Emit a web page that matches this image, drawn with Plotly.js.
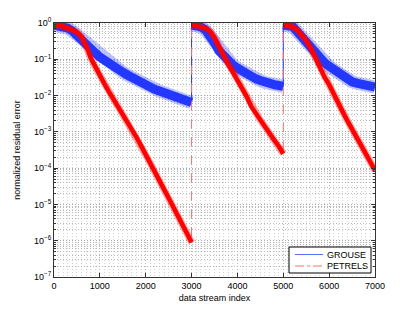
<!DOCTYPE html>
<html>
<head>
<meta charset="utf-8">
<script src="https://cdn.plot.ly/plotly-3.0.1.min.js"></script>
<style>html,body{margin:0;padding:0;background:#fff;}#chart{width:415px;height:313px;}</style>
</head>
<body>
<div id="chart"></div>
<script>
// data stream index samples, per run segment
const idx1 = [0,100,200,300,400,500,600,700,800,900,1000,1100,1200,1300,1400,1500,1600,1700,1800,1900,2000,2100,2200,2300,2400,2500,2600,2700,2800,2900,3000];
const idx2 = [3000,3100,3200,3300,3400,3500,3600,3700,3800,3900,4000,4100,4200,4300,4400,4500,4600,4700,4800,4900,5000];
const idx3 = [5000,5100,5200,5300,5400,5500,5600,5700,5800,5900,6000,6100,6200,6300,6400,6500,6600,6700,6800,6900,7000];

// GROUSE normalized residual error
const grouse1 = [0.87,0.85,0.80,0.72,0.60,0.47,0.36,0.27,0.20,0.15,0.115,0.092,0.075,0.062,0.052,0.044,0.037,0.031,0.026,0.022,0.019,0.0165,0.0148,0.0133,0.012,0.0108,0.0098,0.009,0.0082,0.0073,0.0064];
const grouse2 = [0.88,0.86,0.78,0.65,0.45,0.28,0.17,0.12,0.088,0.070,0.057,0.047,0.040,0.034,0.029,0.026,0.023,0.021,0.020,0.019,0.018];
const grouse3 = [0.88,0.86,0.80,0.58,0.42,0.29,0.19,0.135,0.10,0.080,0.065,0.052,0.041,0.033,0.028,0.024,0.022,0.020,0.019,0.018,0.017];

// PETRELS normalized residual error
const petrels1 = [0.88,0.85,0.80,0.72,0.64,0.56,0.42,0.24,0.11,0.06,0.034,0.021,0.0126,0.0079,0.0049,0.0030,0.0019,0.0012,7.1e-4,4.1e-4,2.3e-4,1.35e-4,7.8e-5,4.5e-5,2.6e-5,1.5e-5,8.7e-6,5.0e-6,2.9e-6,1.66e-6,9e-7];
const petrels2 = [0.88,0.85,0.78,0.72,0.60,0.40,0.22,0.13,0.071,0.044,0.027,0.016,0.0095,0.005,0.0032,0.0021,0.0014,9.1e-4,6.0e-4,4.0e-4,2.5e-4];
const petrels3 = [0.88,0.85,0.78,0.65,0.48,0.33,0.20,0.11,0.055,0.032,0.020,0.0117,0.0063,0.0035,0.0020,0.0012,7.2e-4,4.4e-4,2.6e-4,1.5e-4,8.7e-5];

const yTickVals = [1e-7,1e-6,1e-5,1e-4,1e-3,1e-2,1e-1,1];
const yTickText = ['10<sup>−7</sup>','10<sup>−6</sup>','10<sup>−5</sup>','10<sup>−4</sup>','10<sup>−3</sup>','10<sup>−2</sup>','10<sup>−1</sup>','10<sup>0</sup>'];
const xTickVals = [0,1000,2000,3000,4000,5000,6000,7000];
const seriesNames = ['GROUSE','PETRELS'];

const BLUE = 'rgb(35,55,255)';
const RED = 'rgb(255,0,0)';
const PINK = 'rgb(255,110,110)';

const idxSegs = [idx1, idx2, idx3];
const gSegs = [grouse1, grouse2, grouse3];
const pSegs = [petrels1, petrels2, petrels3];

const traces = [];
// thin full series (connectors at the restarts)
traces.push({x: [].concat(...idxSegs), y: [].concat(...gSegs), type:'scatter', mode:'lines',
  name: seriesNames[0], line:{color:BLUE, width:1}, showlegend:false});
function band(segX, segY, color, w1, w2, op) {
  for (let i = 0; i < segX.length; i++) {
    traces.push({x: segX[i], y: segY[i], type:'scatter', mode:'lines', showlegend:false, hoverinfo:'skip',
      line:{color:color, width:w2}, opacity:op});
    traces.push({x: segX[i], y: segY[i], type:'scatter', mode:'lines', showlegend:false, hoverinfo:'skip',
      line:{color:color, width:w1}});
  }
}
band(idxSegs, gSegs, BLUE, 9, 13, 0.3);
traces.push({x: [].concat(...idxSegs), y: [].concat(...pSegs), type:'scatter', mode:'lines',
  name: seriesNames[1], line:{color:PINK, width:1, dash:'dash'}, showlegend:false});
band(idxSegs, pSegs, RED, 4.5, 7, 0.35);

const axisFont = {family:'Liberation Sans, Arial, sans-serif', size:9, color:'#000'};

// legend drawn as a boxed key in paper coordinates (plot area 321 x 254 px)
const W = 321, H = 254;
const px = v => v / W, py = v => v / H;
const legL = 289-54, legR = 371-54, legT = 277-247, legB = 277-273;
const shapes = [
  {type:'rect', xref:'paper', yref:'paper', x0:px(legL), x1:px(legR), y0:py(legB), y1:py(legT),
   line:{color:'#000', width:1}, fillcolor:'#fff', layer:'above'},
  {type:'line', xref:'paper', yref:'paper', x0:px(295-54), x1:px(323-54), y0:py(277-254.5), y1:py(277-254.5),
   line:{color:'rgb(80,110,255)', width:1}, layer:'above'},
  {type:'line', xref:'paper', yref:'paper', x0:px(295-54), x1:px(323-54), y0:py(277-266), y1:py(277-266),
   line:{color:PINK, width:1, dash:'dashdot'}, layer:'above'}
];
const legFont = {family:'Liberation Sans, Arial, sans-serif', size:9, color:'#000'};
const annotations = [
  {xref:'paper', yref:'paper', x:px(325-54), y:py(277-254.5), xanchor:'left', yanchor:'middle', showarrow:false,
   text:seriesNames[0], font:legFont},
  {xref:'paper', yref:'paper', x:px(325-54), y:py(277-266), xanchor:'left', yanchor:'middle', showarrow:false,
   text:seriesNames[1], font:legFont}
];

const layout = {
  width:415, height:313,
  margin:{l:54, r:40, t:23, b:36},
  paper_bgcolor:'#fff', plot_bgcolor:'#fff',
  showlegend:false,
  shapes: shapes, annotations: annotations,
  xaxis:{range:[0,7000], tickvals:xTickVals, ticks:'inside', ticklen:4, tickcolor:'#333',
    showline:true, linecolor:'#333', linewidth:1, mirror:'ticks', zeroline:false,
    showgrid:true, gridcolor:'#b4b4b4', griddash:'1px,2px', gridwidth:1,
    minor:{dtick:100, showgrid:true, gridcolor:'#d4d4d4', griddash:'1px,2px', ticks:''},
    tickfont:axisFont, title:{text:'data stream index', font:axisFont, standoff:4}},
  yaxis:{type:'log', range:[-7,0], tickvals:yTickVals, ticktext:yTickText, ticks:'inside', ticklen:4, tickcolor:'#333',
    showline:true, linecolor:'#333', linewidth:1, mirror:'ticks', zeroline:false,
    showgrid:true, gridcolor:'#a8a8a8', griddash:'1px,2px', gridwidth:1,
    minor:{dtick:'D1', showgrid:true, gridcolor:'#b8b8b8', griddash:'1px,2px', ticks:'inside', ticklen:2, tickcolor:'#333'},
    tickfont:axisFont, title:{text:'normalized residual error', font:axisFont, standoff:11}}
};

Plotly.newPlot('chart', traces, layout, {displayModeBar:false, staticPlot:true});
</script>
</body>
</html>
